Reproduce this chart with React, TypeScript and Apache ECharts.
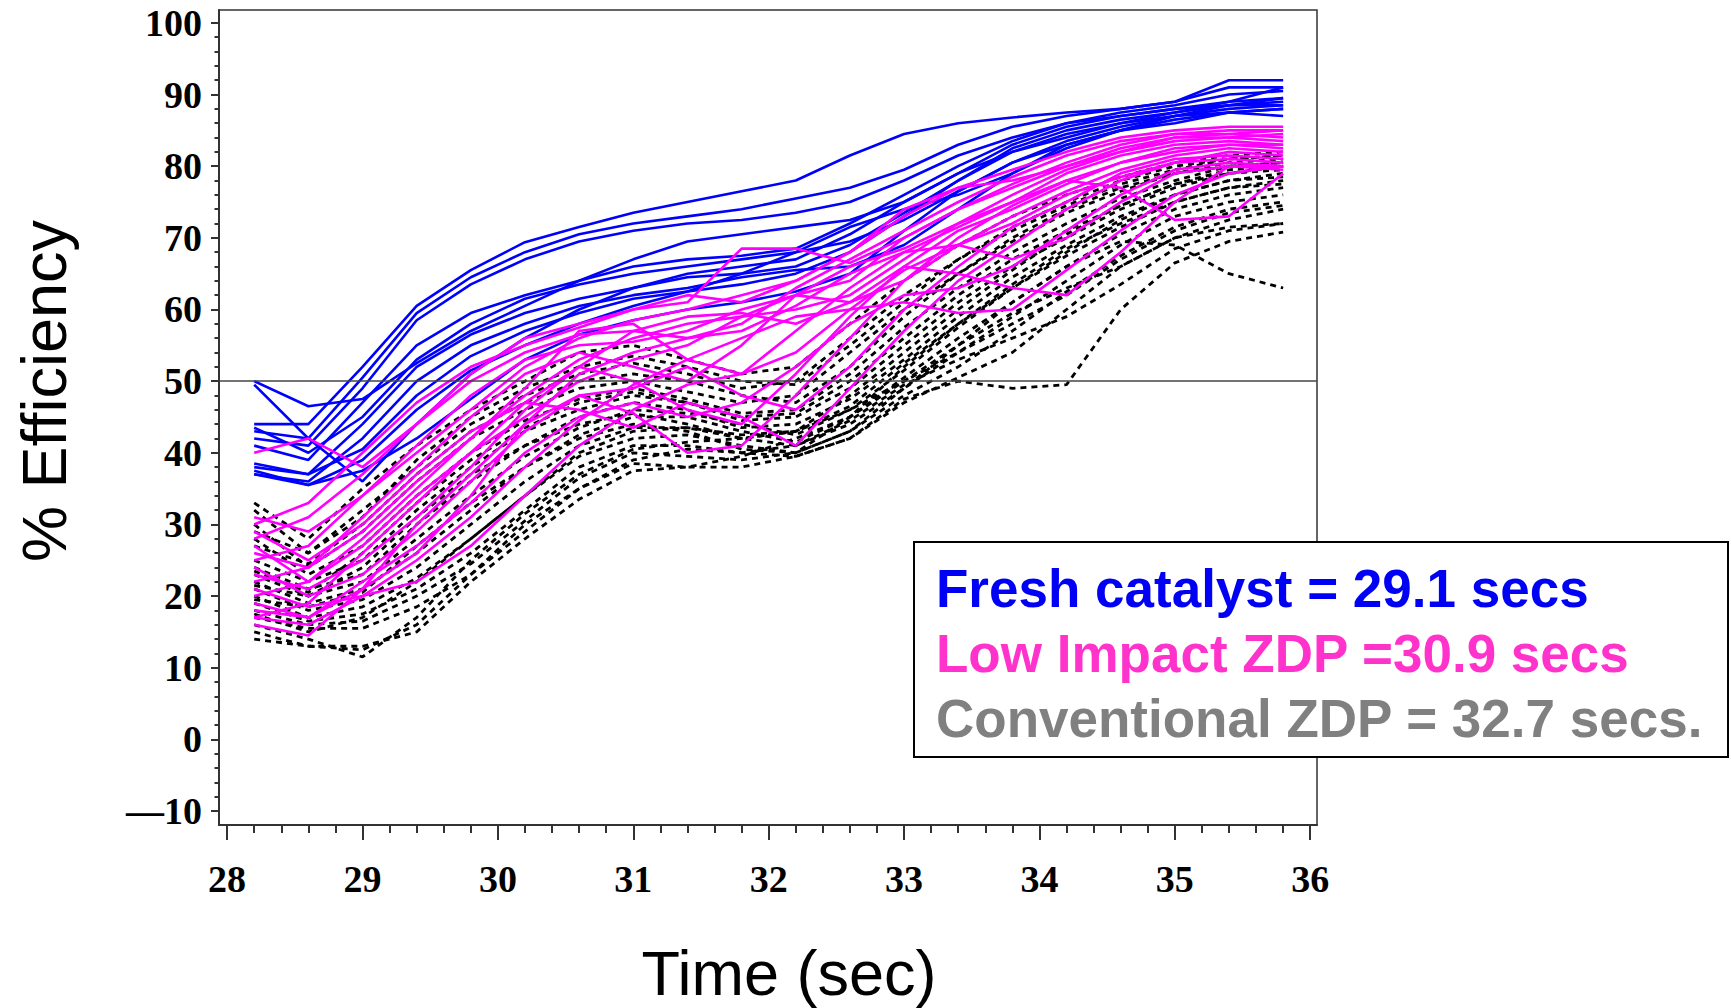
import React, { useEffect, useRef } from "react";
import * as echarts from "echarts";

// Sample times (sec)
const TIME = [28.2, 28.6, 29.0, 29.4, 29.8, 30.2, 30.6, 31.0, 31.4, 31.8, 32.2, 32.6, 33.0, 33.4, 33.8, 34.2, 34.6, 35.0, 35.4, 35.8];

// Tick labels
const X_LABELS = [28, 29, 30, 31, 32, 33, 34, 35, 36];
const Y_LABELS = [-10, 0, 10, 20, 30, 40, 50, 60, 70, 80, 90, 100];
const REFERENCE_EFFICIENCY = 50;

// Fresh catalyst runs (% efficiency)
const FRESH_RUNS = [
  [44, 44, 52, 60.5, 65.5, 69.4, 71.5, 73.5, 75, 76.5, 78, 81.5, 84.5, 86, 86.8, 87.5, 88, 89, 92, 92],
  [43, 42, 50.5, 59.5, 64.5, 68, 70.5, 72, 73, 74, 75.5, 77, 79.5, 83, 85.5, 87, 88, 89, 91, 91],
  [42, 41, 49, 58.5, 63.5, 67, 69.5, 71, 72, 72.5, 73.5, 75, 78, 81.5, 84, 86, 87.5, 88.5, 90, 90.5],
  [50, 46.5, 47.5, 52.5, 57, 60.5, 64, 67, 69.5, 70.5, 71.5, 72.5, 75, 79, 83, 85.5, 87, 88, 89, 89.5],
  [49.5, 42, 36, 44, 51, 56, 60, 63, 65, 66, 67, 70.5, 75, 79, 82, 84, 86, 87.5, 88.5, 89],
  [41, 39, 47, 55, 59.5, 62, 64, 66, 67, 67.5, 68.5, 72, 76, 80, 83.5, 86, 87, 88, 88.5, 88.5],
  [38, 37, 44, 52, 56.5, 59.5, 61.5, 63, 64.5, 65, 66, 69, 73.5, 78, 82, 84.5, 86, 87, 87.5, 87],
  [37, 36, 42, 50, 55, 58, 60.5, 62, 63, 64.5, 65.5, 66, 69, 74, 79, 83, 85, 86.5, 87.5, 88],
  [37.5, 35.5, 39, 46, 51.5, 55, 58, 60.5, 62.5, 65, 68, 71.5, 74, 76, 79, 82.5, 85, 87, 88.5, 89.5],
  [43.5, 40, 45, 53, 58, 61.5, 63.5, 65, 66, 67, 68, 69.5, 72.5, 76.5, 80.5, 83, 85, 86, 87.5, 88],
  [38.5, 37, 40.5, 48, 53.5, 57, 59.5, 61.5, 62.5, 63.5, 65, 68, 73, 78, 82.5, 85, 86.5, 87.5, 89, 91],
  [37, 35.5, 37.5, 42, 47.5, 53, 56.5, 58.5, 60, 61, 62.5, 65, 71, 76.5, 80.5, 83.5, 85.5, 87, 88, 88.5],
];

// Low impact ZDP runs
const LOW_IMPACT_RUNS = [
  [40, 42, 38, 44, 51, 56, 58, 60, 61, 68.5, 68.5, 66.5, 70, 74, 77.5, 80.5, 83, 84.5, 85, 85],
  [30, 33, 40, 47, 52, 55, 57.5, 60, 62, 61, 64, 68, 73, 77, 79.5, 82, 84, 85, 85.5, 85.5],
  [28, 31, 37, 44, 50, 54, 56.5, 57, 56, 58, 63, 67, 71, 75, 78.5, 81.5, 83.5, 84.5, 84.5, 84],
  [25, 27, 34, 41, 48, 53, 55, 55.5, 57, 60, 62, 64, 70, 74, 77, 80, 82.5, 84, 84, 84.5],
  [22, 24, 31, 38, 45, 51, 54, 52, 50, 55, 62, 66, 68.5, 72, 76, 79.5, 82, 83.5, 84, 83.5],
  [20, 22, 28, 35, 42, 49, 57, 58, 53, 51, 57, 63, 68, 71.5, 75, 79, 81.5, 83, 83.5, 83],
  [17, 19, 26, 33, 40, 47, 52, 50, 46, 44, 51, 59, 66, 71, 74, 77.5, 80.5, 82, 83, 82.5],
  [16, 14.5, 21, 30, 37, 44, 48, 45.5, 40, 41, 48, 56, 64, 69, 73, 76.5, 79.5, 81.5, 82.5, 82],
  [29, 25, 30, 37, 43, 47, 46, 43.5, 47, 45, 41, 49, 57, 64, 69, 74, 78, 80.5, 82, 81.5],
  [24, 20, 23, 29, 36, 43, 48, 49, 52, 48, 46, 52, 60, 66, 71.5, 75, 79, 81, 81.5, 81],
  [21, 18.5, 20, 22, 27, 34, 41, 46, 49.5, 51, 54, 60, 65.5, 69, 72, 76, 78.5, 80.5, 81, 80.5],
  [18, 17, 22, 27, 33, 40, 45, 47, 45, 47, 52, 58, 62, 63, 66, 71, 76, 79.5, 80.5, 80],
  [27, 22, 27, 34, 40, 45, 50, 53, 55, 59, 62, 61, 64, 70, 74.5, 78, 80.5, 82.5, 83, 83],
  [19, 17, 21, 26, 34, 44, 51, 54, 56, 57, 60.5, 65, 68, 69, 67, 70, 75, 79, 80, 79.5],
  [23, 21, 25, 31, 38, 46, 52, 57, 59, 59.5, 58, 61, 66, 65, 63, 62, 68, 75, 80, 80],
  [26, 24, 29, 36, 42, 48, 53, 56, 58, 59, 60, 62, 67, 72, 75, 78, 77, 72.5, 73, 79],
  [17, 16, 20, 25, 31, 38, 44.5, 49.5, 53, 56, 59, 60, 61, 59.5, 60, 65.5, 71, 76, 79, 80],
  [31, 29, 34, 40, 46, 52, 56, 58.5, 60, 62, 64, 68, 74, 77, 78, 80, 82, 84, 84.5, 85],
];

// Conventional ZDP runs
const CONVENTIONAL_RUNS = [
  [33, 28, 35, 41, 46, 50, 54, 55, 53, 51, 52, 58, 64, 69, 73, 76, 78.5, 80.5, 81.5, 82],
  [32, 26, 32, 38, 44, 48, 51, 52.5, 51, 49, 50, 56, 62, 67, 71, 74.5, 77.5, 79.5, 81, 81.5],
  [30, 24, 29, 36, 42, 46, 49, 50, 48.5, 47, 48, 54, 60, 65, 69.5, 73.5, 76.5, 79, 80.5, 81],
  [28, 23, 27, 34, 40, 44.5, 47.5, 49, 47.5, 45.5, 46, 51, 57.5, 63, 68, 72, 75.5, 78, 80, 80.5],
  [25, 22, 25, 32, 38, 43, 46, 48, 47, 44.5, 45, 49, 55, 61, 66, 70, 74, 77, 79, 80],
  [24, 21, 23, 30, 36, 41, 45, 47, 46, 43.5, 44, 47.5, 53, 59, 64.5, 69, 73, 76, 78, 79],
  [23, 20, 22, 28, 34, 39.5, 43.5, 46, 45.5, 44, 42.5, 46, 51.5, 57.5, 63, 67.5, 71.5, 75, 77, 78],
  [22, 19, 21, 26, 32, 38, 42.5, 45, 45, 43, 41.5, 45, 50.5, 56, 61, 66, 70.5, 74, 76, 77],
  [21, 18, 19.5, 24, 30, 36, 41, 43.5, 43.5, 42, 41, 44, 49, 54, 59, 64, 69, 73, 75, 76],
  [20, 17, 18.5, 22.5, 28, 34, 39.5, 42, 42.5, 41, 40, 43, 48, 52, 57, 62.5, 67.5, 71.5, 74, 75],
  [19, 16.5, 17.5, 21, 26, 32, 38, 41, 41, 40, 39.5, 42, 47, 50.5, 54, 60, 66, 70, 72.5, 74],
  [18, 16, 16.5, 20, 24.5, 30.5, 36.5, 40, 39.5, 39, 40, 43, 49, 55, 59.5, 63, 66, 70, 71.5, 72],
  [17, 15.5, 15.5, 18.5, 23, 29, 35, 38.5, 38, 38, 39.5, 42, 47.5, 50, 49, 49.5, 60, 66.5, 69.5, 70.8],
  [15, 13, 13, 15, 22, 28, 33.5, 37.5, 38, 39.5, 42, 45, 50, 55, 61, 66, 69.5, 69, 65, 63],
  [16, 14, 11.5, 17, 25, 31.5, 37, 40.5, 41.5, 42, 43, 46, 50, 54, 58, 62, 67, 71, 73.5, 74.5],
  [14, 13, 12.5, 16, 23, 30, 35, 39, 40.5, 40, 41, 44.5, 49.5, 53, 56, 59, 63.5, 68.5, 71, 72],
  [27, 24.5, 30, 37, 43, 47, 50, 51, 50, 48, 47, 52, 59, 65, 70, 74, 77, 79, 80, 80.5],
  [29, 26, 31, 39, 45, 49, 52, 53.5, 52, 50, 49.5, 55, 61, 67, 71.5, 75, 78, 80, 81, 81.5],
  [21.5, 20, 24, 31, 37, 41, 44, 45.5, 44, 42, 43, 48, 54, 60, 65.5, 70.5, 74.5, 77.5, 79, 79.5],
  [19.5, 18.5, 20.5, 27, 33, 38, 42, 44, 43, 40.5, 40, 45, 52, 58, 63, 68, 72.5, 76, 78, 78.5],
  [23.5, 20.5, 26, 33, 39, 43.5, 47, 48.5, 47, 45, 45.5, 50, 56, 62, 67, 71, 74.5, 77.5, 79.5, 80],
  [17.5, 15, 17, 22, 28, 34, 40, 43, 43.5, 42.5, 43, 46.5, 52.5, 58, 63.5, 68.5, 72, 75, 77, 77.5],
];

const LEGEND_LINES = [
  { text: "Fresh catalyst = 29.1 secs", color: "#0000F5" },
  { text: "Low Impact ZDP =30.9 secs", color: "#FF33CC" },
  { text: "Conventional ZDP = 32.7 secs.", color: "#808080" },
];

const X_MIN = 27.94;
const X_MAX = 36.05;
const Y_MIN = -11.95;
const Y_MAX = 101.8;

function minorTicks(start: number, end: number, step: number, skipEvery: number) {
  const out: number[] = [];
  const n = Math.round((end - start) / step);
  for (let i = 0; i <= n; i++) {
    if (i % skipEvery === 0) continue;
    out.push(+(start + i * step).toFixed(3));
  }
  return out;
}

export default function App() {
  const ref = useRef<HTMLDivElement>(null);

  useEffect(() => {
    if (!ref.current) return;
    const chart = echarts.init(ref.current, null, { renderer: "svg" });

    const mk = (runs: number[][], color: string, dashed: boolean, prefix: string) =>
      runs.map((run, k) => ({
        name: `${prefix}${k + 1}`,
        type: "line",
        xAxisIndex: 0,
        yAxisIndex: 0,
        showSymbol: false,
        symbol: "none",
        silent: true,
        data: TIME.map((t, i) => [t, run[i]]),
        lineStyle: {
          color,
          width: dashed ? 2.8 : 2.6,
          type: dashed ? [6, 5] : "solid",
          cap: "butt",
        },
      }));

    const series: any[] = [
      ...mk(CONVENTIONAL_RUNS, "#000000", true, "conv"),
      ...mk(FRESH_RUNS, "#0000FF", false, "fresh"),
      ...mk(LOW_IMPACT_RUNS, "#FF00FF", false, "low"),
    ];
    series[0].markLine = {
      silent: true,
      symbol: "none",
      label: { show: false },
      lineStyle: { color: "#444", width: 1.5, type: "solid" },
      data: [{ yAxis: REFERENCE_EFFICIENCY }],
    };

    const labelFont = {
      fontFamily: "Liberation Serif",
      fontWeight: "bold",
      fontSize: 38,
      color: "#000",
    };

    chart.setOption({
      animation: false,
      backgroundColor: "#fff",
      grid: {
        left: 219,
        top: 10,
        width: 1098,
        height: 815,
        show: true,
        borderColor: "#333",
        borderWidth: 1.5,
        backgroundColor: "transparent",
      },
      xAxis: [
        {
          type: "value",
          min: X_MIN,
          max: X_MAX,
          axisLine: { show: true, onZero: false, lineStyle: { color: "#333", width: 2 } },
          axisTick: { show: true, customValues: X_LABELS, length: 15, lineStyle: { color: "#333", width: 2 } },
          axisLabel: { ...labelFont, customValues: X_LABELS, margin: 35 },
          splitLine: { show: false },
        },
        {
          type: "value",
          min: X_MIN,
          max: X_MAX,
          position: "bottom",
          axisLine: { show: false, onZero: false },
          axisTick: { show: true, customValues: minorTicks(28, 36, 0.2, 5), length: 8, lineStyle: { color: "#333", width: 2 } },
          axisLabel: { show: false },
          splitLine: { show: false },
        },
      ],
      yAxis: [
        {
          type: "value",
          min: Y_MIN,
          max: Y_MAX,
          axisLine: { show: true, onZero: false, lineStyle: { color: "#333", width: 2 } },
          axisTick: { show: true, customValues: Y_LABELS, length: 8, lineStyle: { color: "#333", width: 2 } },
          axisLabel: {
            ...labelFont,
            customValues: Y_LABELS,
            margin: 17,
            formatter: (v: number) => (v < 0 ? "\u2014" + Math.abs(v) : String(v)),
          },
          splitLine: { show: false },
        },
        {
          type: "value",
          min: Y_MIN,
          max: Y_MAX,
          position: "left",
          axisLine: { show: false, onZero: false },
          axisTick: { show: true, customValues: minorTicks(-10, 100, 2, 5), length: 4.5, lineStyle: { color: "#333", width: 2 } },
          axisLabel: { show: false },
          splitLine: { show: false },
        },
      ],
      series,
      graphic: [
        {
          type: "text",
          x: 44,
          y: 391,
          rotation: Math.PI / 2,
          style: {
            text: "% Efficiency",
            fontFamily: "Liberation Sans",
            fontSize: 63,
            fill: "#000",
            align: "center",
            verticalAlign: "middle",
          },
        },
        {
          type: "text",
          x: 789,
          y: 973,
          style: {
            text: "Time (sec)",
            fontFamily: "Liberation Sans",
            fontSize: 63,
            fill: "#000",
            align: "center",
            verticalAlign: "middle",
          },
        },
        {
          type: "group",
          z: 100,
          children: [
            {
              type: "rect",
              shape: { x: 914, y: 542, width: 814, height: 215 },
              style: { fill: "#fff", stroke: "#000", lineWidth: 2 },
            },
            ...LEGEND_LINES.map((l, i) => ({
              type: "text",
              x: 936,
              y: 588 + i * 65,
              style: {
                text: l.text,
                fontFamily: "Liberation Sans",
                fontWeight: "bold",
                fontSize: 53,
                fill: l.color,
                align: "left",
                verticalAlign: "middle",
              },
            })),
          ],
        },
      ],
    });

    return () => chart.dispose();
  }, []);

  return (
    <div
      ref={ref}
      style={{ position: "absolute", left: 0, top: 0, width: 1731, height: 1008, background: "#fff" }}
    />
  );
}
